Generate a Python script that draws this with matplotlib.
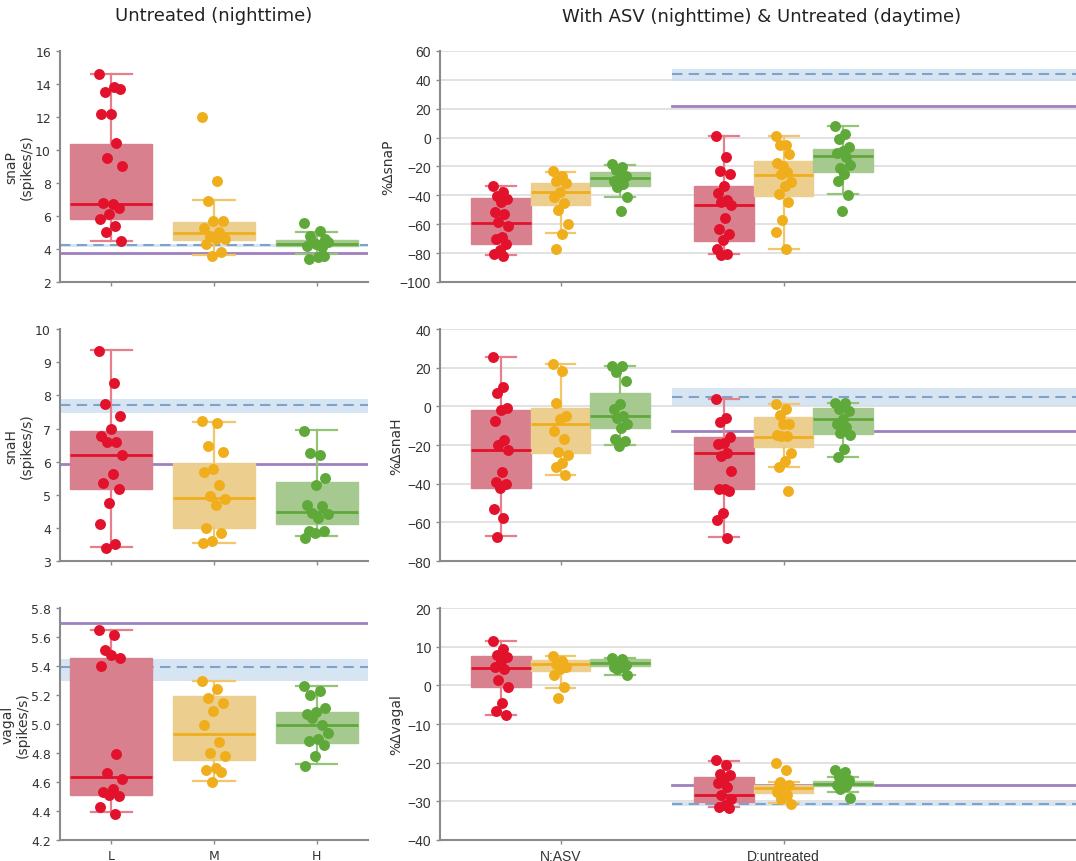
import numpy as np
import matplotlib
matplotlib.use("Agg")
import matplotlib.pyplot as plt
from matplotlib import font_manager

plt.rcParams['font.family'] = ['DejaVu Sans']
installed = {f.name for f in font_manager.fontManager.ttflist}
narrow = 'Liberation Sans Narrow' if 'Liberation Sans Narrow' in installed else 'Liberation Sans'

levels = ['L', 'M', 'H']
conditions = ['N:ASV', 'D:untreated']
left_labels = ['snaP\n(spikes/s)', 'snaH\n(spikes/s)', 'vagal\n(spikes/s)']
right_labels = ['%ΔsnaP', '%ΔsnaH', '%Δvagal']

# ---- untreated nighttime, raw values per level (L, M, H)
snap_night = [
    [14.6, 13.8, 13.5, 13.7, 12.2, 12.2, 10.4, 9.5, 9.0, 6.7, 6.8, 6.5, 6.1, 5.8, 5.4, 5.0, 4.5],
    [12.0, 8.1, 6.9, 5.7, 5.7, 5.3, 5.0, 4.8, 4.6, 4.6, 4.3, 3.8, 3.6],
    [5.6, 5.1, 4.8, 4.6, 4.3, 4.2, 4.1, 4.4, 4.4, 3.5, 3.4, 3.6],
]
snah_night = [
    [9.35, 8.37, 7.73, 7.38, 6.98, 6.78, 6.58, 6.58, 6.19, 5.62, 5.37, 5.17, 4.76, 4.11, 3.50, 3.40],
    [7.23, 7.18, 6.47, 6.29, 5.77, 5.70, 5.29, 4.96, 4.86, 4.68, 4.01, 3.86, 3.60, 3.55],
    [6.93, 6.19, 6.25, 5.52, 5.29, 4.68, 4.66, 4.46, 4.41, 4.31, 3.91, 3.91, 3.86, 3.71],
]
vagal_night = [
    [5.646, 5.616, 5.51, 5.457, 5.473, 5.40, 4.79, 4.663, 4.62, 4.55, 4.53, 4.50, 4.51, 4.43, 4.38],
    [5.30, 5.243, 5.18, 5.144, 5.089, 4.99, 4.875, 4.80, 4.778, 4.70, 4.68, 4.672, 4.603],
    [5.261, 5.231, 5.20, 5.11, 5.08, 5.07, 4.99, 5.04, 4.94, 4.90, 4.886, 4.852, 4.78, 4.713],
]
# box stats: q1, median, q3, whisker low, whisker high
snap_night_box = [(5.83, 6.73, 10.36, 4.46, 14.61), (4.52, 4.98, 5.63, 3.61, 6.95), (4.17, 4.32, 4.52, 3.71, 5.0)]
snah_night_box = [(5.17, 6.20, 6.93, 3.42, 9.37), (3.99, 4.91, 5.95, 3.55, 7.20), (4.11, 4.49, 5.40, 3.76, 6.95)]
vagal_night_box = [(4.51, 4.633, 5.455, 4.39, 5.646), (4.753, 4.932, 5.192, 4.605, 5.294), (4.868, 4.99, 5.08, 4.725, 5.259)]

# reference lines (left): dashed value, band low, band high, purple line
snap_night_ref = (4.22, 4.12, 4.32, 3.75)
snah_night_ref = (7.71, 7.46, 7.90, 5.94)
vagal_night_ref = (5.395, 5.30, 5.45, 5.696)

# ---- percent change, [condition][level]
snap_pct = [
    [[-33.2, -37.8, -40.1, -42.4, -44.7, -51.6, -52.8, -58.6, -60.9, -68.9, -70.1, -73.5, -78.1, -80.4, -82.0],
     [-23.3, -26.3, -29.8, -31.4, -37.8, -41.3, -45.2, -49.8, -59.7, -66.6, -77.4],
     [-18.5, -20.6, -22.4, -26.3, -28.2, -29.8, -32.1, -34.4, -41.3, -50.5]],
    [[0.8, -13.2, -22.9, -25.2, -33.2, -38.3, -42.9, -44.7, -47.0, -55.6, -63.2, -66.6, -71.2, -77.4, -80.4, -81.1],
     [1.3, -5.1, -5.1, -11.4, -19.4, -17.6, -23.6, -25.2, -30.9, -33.2, -39.0, -44.7, -57.4, -65.5, -77.4],
     [8.2, 2.4, -1.0, -6.8, -9.1, -10.9, -13.7, -21.3, -19.0, -25.2, -29.8, -39.7, -50.5]],
]
snah_pct = [
    [[25.7, 10.3, 7.2, -0.6, -1.8, -7.5, -17.5, -20.1, -22.5, -33.9, -38.9, -40.3, -42.0, -52.9, -57.5, -67.4],
     [21.9, 18.4, 2.0, -4.9, -6.6, -12.7, -17.0, -23.5, -25.3, -29.4, -31.6, -35.6],
     [21.0, 21.0, 17.6, 13.3, 1.2, -1.4, -4.9, -5.8, -9.2, -10.9, -17.0, -17.8, -20.4]],
    [[3.7, -5.8, -7.8, -15.8, -18.7, -19.6, -24.2, -25.6, -33.4, -42.5, -42.9, -43.7, -55.0, -58.8, -67.9],
     [1.5, -1.1, -4.5, -9.2, -9.2, -14.9, -15.2, -15.2, -23.9, -28.2, -31.6, -43.7],
     [1.7, 2.0, -1.1, -2.3, -6.3, -9.2, -10.4, -14.0, -14.9, -22.2, -26.1]],
]
vagal_pct = [
    [[11.4, 9.3, 7.9, 7.3, 6.4, 4.7, 4.3, 1.3, -0.5, -4.5, -6.5, -7.6],
     [7.6, 6.4, 5.6, 4.7, 4.3, 2.6, -0.5, -3.2],
     [7.0, 6.9, 6.0, 5.3, 5.0, 4.7, 4.7, 4.3, 2.6]],
    [[-19.3, -20.6, -22.9, -23.3, -24.2, -25.2, -26.4, -28.3, -29.4, -30.9, -31.4, -31.7],
     [-20.1, -22.0, -24.9, -25.9, -26.8, -27.7, -28.3, -29.4, -30.7, -26.5, -25.5],
     [-22.0, -22.3, -23.8, -24.6, -25.2, -25.8, -26.1, -26.8, -29.2]],
]
snap_pct_box = [
    [(-74.0, -59.0, -42.0, -81.6, -33.2), (-46.4, -37.8, -31.2, -66.1, -23.6), (-33.2, -28.2, -23.6, -41.3, -19.0)],
    [(-71.9, -46.4, -33.2, -80.4, 0.8), (-40.1, -25.9, -16.0, -77.0, 1.3), (-24.0, -13.0, -7.9, -39.4, 8.2)],
]
snah_pct_box = [
    [(-42.0, -22.5, -1.8, -67.0, 25.7), (-24.2, -8.9, -0.6, -35.6, 21.9), (-10.9, -5.2, 6.8, -20.1, 21.0)],
    [(-42.9, -23.9, -15.8, -67.6, 3.7), (-20.8, -15.6, -5.4, -31.6, 1.5), (-14.4, -6.3, -0.7, -26.0, 2.0)],
]
vagal_pct_box = [
    [(-0.5, 4.5, 7.5, -7.6, 11.4), (3.7, 5.6, 6.6, -0.7, 7.6), (5.0, 5.8, 6.7, 2.8, 7.2)],
    [(-30.1, -28.3, -23.6, -31.5, -19.5), (-27.8, -26.5, -25.7, -30.5, -24.9), (-26.1, -25.5, -24.8, -27.6, -23.8)],
]
# daytime reference lines (right, D:untreated only)
snap_day_ref = (44.3, 39.3, 47.8, 22.0)
snah_day_ref = (5.0, 0.0, 9.8, -12.7)
vagal_day_ref = (-30.7, -31.3, -30.1, -25.9)

colors = ['#e3122c', '#f0ae1c', '#5fa83a']
face = ['#d9808f', '#ecce8e', '#a6c98f']
light = ['#e57f8c', '#f2c66a', '#93c477']
band_c = '#cddff0'
dash_c = '#7fa3c8'
purple = '#9f80bf'
spine_c = '#8a8a8a'


def jitter(n, amount):
    return amount * (((np.arange(n) * 0.618034) % 1.0) * 2 - 1)


def draw_group(ax, pos, width, vals, stats, i, jit):
    q1, med, q3, lo, hi = stats
    st = [{'q1': q1, 'med': med, 'q3': q3, 'whislo': lo, 'whishi': hi, 'fliers': []}]
    ax.bxp(st, positions=[pos], widths=width, patch_artist=True, showfliers=False,
           boxprops=dict(facecolor=face[i], edgecolor=face[i], linewidth=1),
           medianprops=dict(color=colors[i], linewidth=2),
           whiskerprops=dict(color=light[i], linewidth=1.6),
           capprops=dict(color=light[i], linewidth=1.6),
           capwidths=width * 0.5, zorder=2)
    v = np.array(vals)
    ax.scatter(pos + jitter(len(v), jit), v, s=62, color=colors[i], zorder=3, linewidths=0)


def style(ax):
    for s in ['top', 'right']:
        ax.spines[s].set_visible(False)
    for s in ['left', 'bottom']:
        ax.spines[s].set_color(spine_c)
        ax.spines[s].set_linewidth(1.5)
    ax.tick_params(colors='#333333', labelsize=9, length=3, width=1)
    ax.tick_params(axis='both', color=spine_c)


fig = plt.figure(figsize=(10.76, 8.62), dpi=100)
rows = [(0.6717, 0.268), (0.348, 0.269), (0.0244, 0.269)]

left_data = [(snap_night, snap_night_box, snap_night_ref, (2, 16), np.arange(2, 17, 2), None),
             (snah_night, snah_night_box, snah_night_ref, (3, 10), np.arange(3, 11, 1), None),
             (vagal_night, vagal_night_box, vagal_night_ref, (4.2, 5.8), np.arange(4.2, 5.81, 0.2), '%.1f')]
right_data = [(snap_pct, snap_pct_box, snap_day_ref, (-100, 60), np.arange(-100, 61, 20)),
              (snah_pct, snah_pct_box, snah_day_ref, (-80, 40), np.arange(-80, 41, 20)),
              (vagal_pct, vagal_pct_box, vagal_day_ref, (-40, 20), np.arange(-40, 21, 10))]

for r, (b, h) in enumerate(rows):
    # left column
    ax = fig.add_axes([0.0558, b, 0.2862, h])
    vals, boxes, ref, ylim, yt, fmt = left_data[r]
    ax.axhspan(ref[1], ref[2], color=band_c, alpha=0.8, zorder=0, lw=0)
    ax.axhline(ref[0], color=dash_c, ls='--', lw=1.5, dashes=(5, 3), zorder=1)
    ax.axhline(ref[3], color=purple, lw=2, zorder=1)
    for i in range(3):
        draw_group(ax, i, 0.8, vals[i], boxes[i], i, 0.12)
    ax.set_xlim(-0.5, 2.5)
    ax.set_ylim(*ylim)
    ax.set_yticks(yt)
    if fmt:
        ax.set_yticklabels([fmt % t for t in yt])
    ax.set_xticks(range(3))
    ax.set_xticklabels(levels if r == 2 else ['', '', ''], fontsize=10)
    style(ax)
    ax.set_ylabel(left_labels[r], fontsize=10, color='#333333', labelpad=1, linespacing=1.1)
    if r == 0:
        ax.set_title('Untreated (nighttime)', fontsize=13, color='#222222', pad=22, x=0.5)

    # right column
    ax = fig.add_axes([0.409, b, 0.591, h])
    vals, boxes, ref, ylim, yt = right_data[r]
    xmax = 2.31
    ax.set_xlim(-0.54, xmax)
    ax.set_ylim(*ylim)
    ax.set_yticks(yt)
    ax.grid(axis='y', color='#dddddd', lw=1.2, zorder=0)
    ax.set_axisbelow(True)
    ax.fill_between([0.5, xmax], ref[1], ref[2], color=band_c, alpha=0.8, lw=0, zorder=1)
    ax.plot([0.5, xmax], [ref[0], ref[0]], color=dash_c, ls='--', lw=1.5, dashes=(5, 3), zorder=1)
    ax.plot([0.5, xmax], [ref[3], ref[3]], color=purple, lw=2, zorder=1)
    w = 0.8 / 3
    for c in range(2):
        for i in range(3):
            draw_group(ax, c + (i - 1) * w, w, vals[c][i], boxes[c][i], i, 0.035)
    ax.set_xticks(range(2))
    ax.set_xticklabels(conditions if r == 2 else ['', ''])
    style(ax)
    for lab in ax.get_yticklabels() + ax.get_xticklabels():
        lab.set_family(narrow)
        lab.set_fontsize(10)
    ax.set_ylabel(right_labels[r], fontsize=10, color='#333333', labelpad=3)
    if r == 0:
        fig.text(0.708, 0.98, 'With ASV (nighttime) & Untreated (daytime)', ha='center', va='center',
                 fontsize=13, color='#222222')

fig.savefig('out.png', dpi=100)
